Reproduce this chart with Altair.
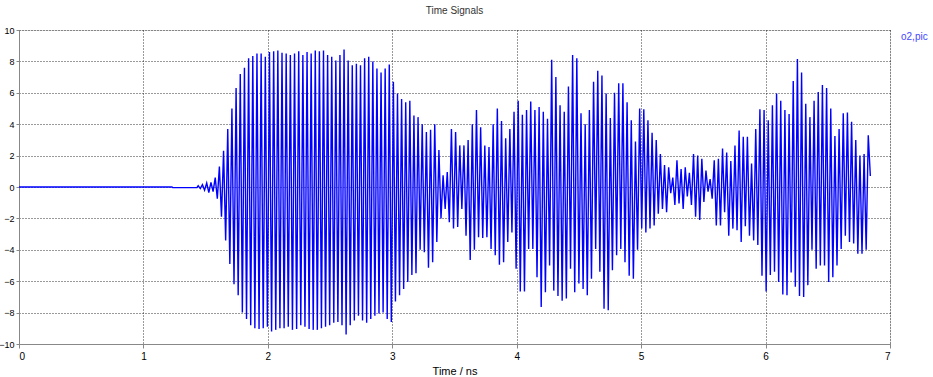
import altair as alt
import pandas as pd
import numpy as np

# ---- data (extrema of the oscillation, in order) ----
flat_t = [0.0, 1.23, 1.235, 1.43]
flat_v = [0.0, 0.0, -0.04, -0.04]

onset_vals = [0.08, -0.1, 0.15, -0.2, 0.25, -0.35, 0.3, -0.3]

peaks_a = [0.6, 1.3, 2.3, 3.7, 5.0, 6.3, 7.2, 7.6, 8.2, 8.35, 8.5, 8.5, 8.3, 8.6, 8.65,
           8.7, 8.55, 8.5, 8.4, 8.5, 8.65, 8.4]
troughs_a = [-0.75, -1.9, -3.4, -4.9, -6.2, -6.9, -8.0, -8.4, -8.8, -9.0, -9.05, -9.0, -8.9,
             -9.2, -9.1, -9.0, -9.0, -8.9, -9.1, -9.05, -8.8, -8.9]

peaks_b = [8.6, 8.5, 8.7, 8.65, 8.7, 8.4, 8.3, 8.05, 8.4, 8.75, 8.05, 7.75, 7.85, 7.75, 8.2,
           8.3, 8.0, 7.55, 7.3, 7.55, 7.8, 6.7, 5.95, 5.6, 5.4, 5.5, 4.55]
troughs_b = [-9.05, -9.1, -9.1, -9.0, -8.9, -8.8, -8.65, -8.6, -8.8, -9.4, -8.8, -8.5, -8.2,
             -8.5, -8.65, -8.4, -8.2, -8.05, -8.0, -8.4, -8.6, -7.3, -6.9, -6.5, -6.05, -5.6, -5.5]

peaks_c = [4.45, 4.0, 3.5, 3.65, 4.0, 2.35, 0.75, 0.95, 3.7, 3.5, 2.65, 2.65, 3.0, 4.0, 4.9,
           3.8, 2.65, 2.55, 4.0, 5.0, 4.2, 3.1, 3.7, 4.8, 5.5, 4.6]
troughs_c = [-4.0, -4.15, -5.15, -4.8, -3.5, -2.0, -1.4, -2.25, -2.65, -2.55, -1.4, -3.1, -4.65,
             -4.0, -3.2, -3.25, -3.2, -3.95, -4.35, -4.95, -4.8, -3.5, -2.9, -5.2, -6.65, -6.65]

peaks_d = [4.9, 5.45, 4.9, 5.1, 4.8, 4.35, 8.1, 7.0, 5.2, 4.8, 6.4, 8.4, 8.2, 4.7, 4.0, 4.9,
           6.7, 7.4, 7.1, 5.95, 4.4, 6.0, 6.6, 6.6, 5.4, 4.25, 2.9]
troughs_d = [-3.95, -3.95, -5.75, -7.65, -6.7, -5.0, -6.6, -6.95, -7.25, -7.1, -5.2, -6.7, -6.15,
             -6.5, -6.9, -5.85, -3.95, -5.4, -7.75, -7.85, -5.3, -4.35, -3.95, -4.8, -5.65, -5.85, -4.0]

peaks_e = [5.0, 4.95, 4.25, 3.45, 3.0, 2.1, 1.4, 1.25, 0.6, 1.7, 1.15, 1.25, 0.9, 2.1, 2.0, 1.8,
           1.05, 0.5, 1.7, 1.8, 2.45, 2.2, 1.65, 2.65, 3.6, 3.2]
troughs_e = [-2.65, -2.9, -2.65, -2.45, -1.7, -1.4, -1.6, -0.4, -1.15, -1.05, -1.4, -0.6, -1.15,
             -1.9, -2.1, -0.95, -0.3, -0.75, -2.45, -2.45, -1.6, -3.1, -2.65, -2.75, -3.5, -2.5]

peaks_f = [3.2, 1.5, 3.7, 4.95, 4.9, 4.25, 5.2, 5.95, 5.5, 4.9, 4.65, 6.75, 8.15, 7.3, 5.3, 4.45,
           5.5, 6.05, 6.5, 6.3, 5.0, 3.25, 3.7, 4.7, 4.75, 4.15, 3.0, 2.0, 2.1, 3.3]
troughs_f = [-3.1, -3.4, -3.7, -5.65, -6.65, -5.6, -5.4, -6.05, -6.85, -6.9, -5.45, -6.35, -6.95,
             -7.0, -6.25, -4.0, -5.2, -5.0, -5.0, -6.05, -5.75, -5.0, -3.95, -3.1, -3.5, -3.6,
             -4.25, -4.25, -4.0]
end_value = 0.7

# zone start times (ns) where each group of extrema begins
zone_starts = [1.44, 1.577, 2.315, 3.207, 4.079, 4.988, 5.854]
t_end = 6.842


def interleave(p, t):
    out = []
    for i in range(max(len(p), len(t))):
        if i < len(p):
            out.append(p[i])
        if i < len(t):
            out.append(t[i])
    return out


groups = [
    onset_vals,
    interleave(peaks_a, troughs_a),
    interleave(peaks_b, troughs_b),
    interleave(peaks_c, troughs_c),
    interleave(peaks_d, troughs_d),
    interleave(peaks_e, troughs_e),
    interleave(peaks_f, troughs_f) + [end_value],
]

ts = list(flat_t)
vs = list(flat_v)
bounds = zone_starts + [t_end]
for gi, vals in enumerate(groups):
    last = gi == len(groups) - 1
    grid = np.linspace(bounds[gi], bounds[gi + 1], len(vals), endpoint=last)
    ts.extend(grid.tolist())
    vs.extend(vals)

df = pd.DataFrame({"t": ts, "v": vs, "series": "o2,pic"})

FONT = "Liberation Sans"

chart = alt.Chart(df).mark_line(strokeWidth=1.4, clip=True).encode(
    x=alt.X("t:Q",
            scale=alt.Scale(domain=[0, 7], nice=False, zero=False),
            axis=alt.Axis(values=list(range(8)), title="Time / ns", format="d",
                          tickSize=4, labelPadding=3, titlePadding=4,
                          titleFontWeight="normal",
                          grid=True, gridColor="#111111", gridDash=[1, 2],
                          gridOpacity=0.85, gridWidth=1)),
    y=alt.Y("v:Q",
            scale=alt.Scale(domain=[-10, 10], nice=False),
            axis=alt.Axis(values=list(range(-10, 11, 2)), title=None, format="d",
                          tickSize=3, labelPadding=2, labelFontSize=9,
                          grid=True, gridColor="#111111", gridDash=[1, 2],
                          gridOpacity=0.85, gridWidth=1)),
    color=alt.Color("series:N",
                    scale=alt.Scale(range=["#0000ff"]),
                    legend=alt.Legend(orient="none", legendX=872, legendY=2, title=None,
                                      symbolSize=0, symbolOpacity=0, symbolStrokeWidth=0,
                                      labelOffset=0, labelColor="#4646ff",
                                      labelFontSize=10, labelFont=FONT)),
).properties(
    width=871,
    height=314,
    autosize=alt.AutoSizeParams(type="none"),
    padding={"left": 19, "top": 30, "right": 43, "bottom": 33},
    title=alt.TitleParams("Time Signals", fontSize=10, font=FONT, fontWeight="normal",
                          color="#333333", offset=10, anchor="middle"),
).configure_view(
    stroke="#8c8c8c", strokeWidth=1
).configure_axis(
    labelFont=FONT, labelFontSize=10, labelColor="#444444",
    titleFont=FONT, titleFontSize=10, titleColor="#333333",
    domainColor="#666666", tickColor="#666666",
).configure(background="white")

chart.save("out.html", embed_options={"renderer": "svg", "actions": False})
